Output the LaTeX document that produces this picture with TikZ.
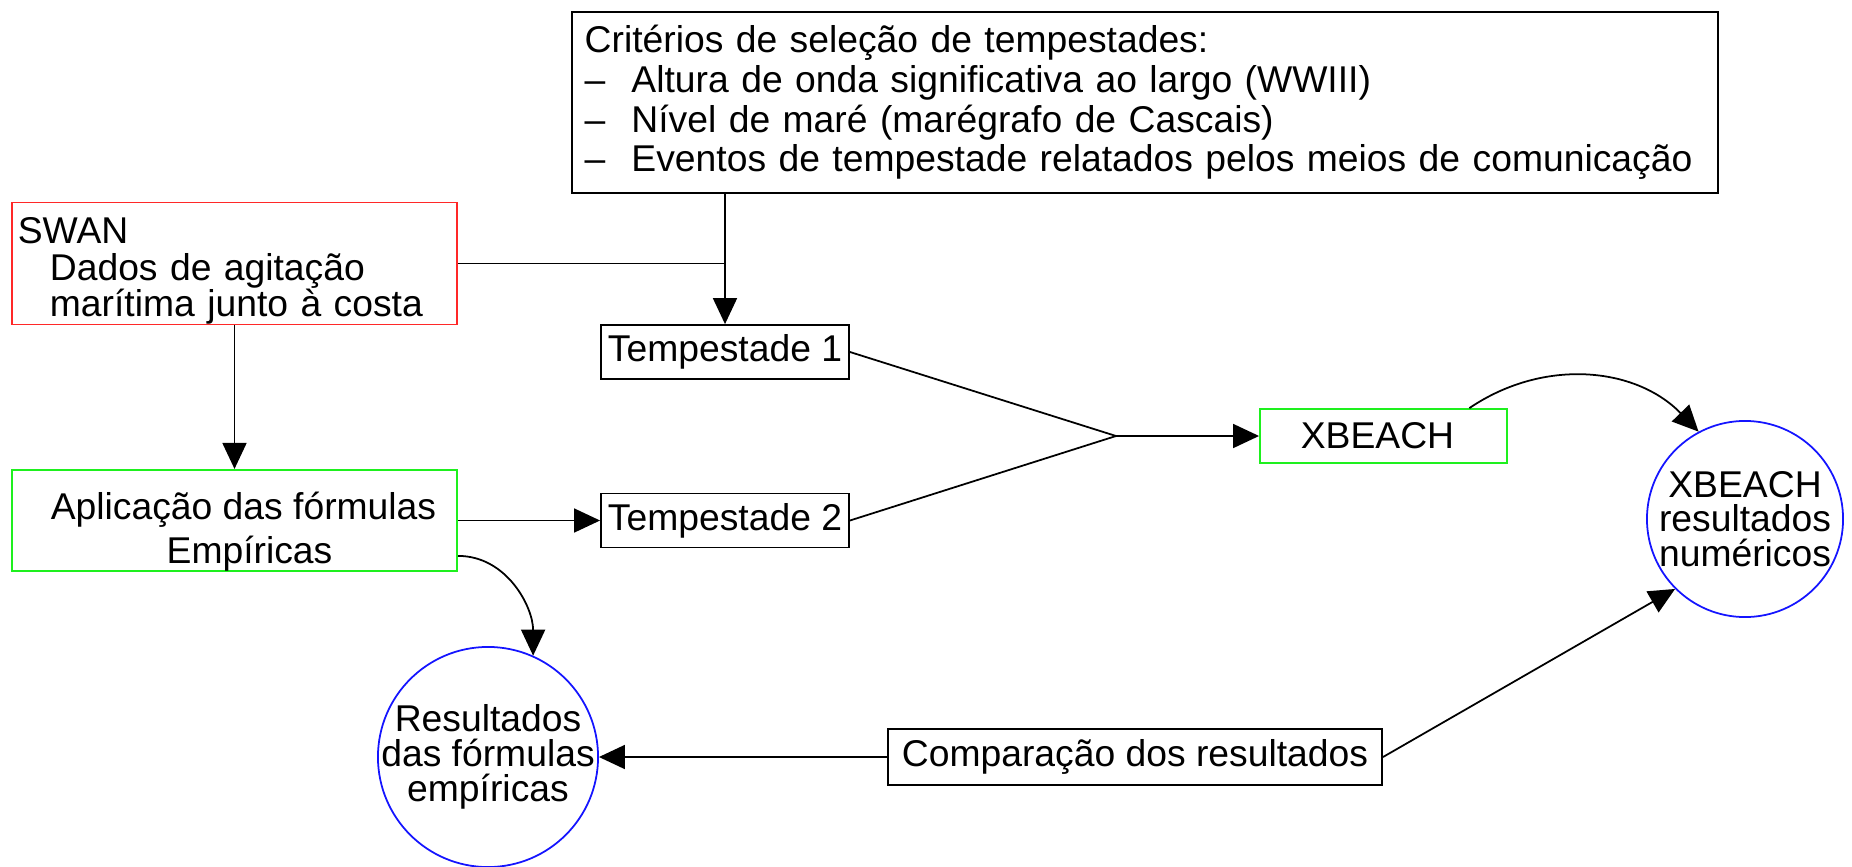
\documentclass[tikz,border=0pt]{standalone}
\usepackage{fontspec}
\setmainfont{Liberation Sans}
\usepackage{xcolor}
\usetikzlibrary{arrows.meta}

\definecolor{swanred}{RGB}{255,40,40}
\definecolor{boxgreen}{RGB}{30,240,30}
\definecolor{resblue}{RGB}{20,20,255}

\begin{document}
\begin{tikzpicture}[x=0.01cm,y=-0.01cm]
	\tikzstyle{box}=[draw, line width=0.5pt, inner sep=0pt, font=\fontsize{10.6}{11.3}\selectfont]
	\tikzstyle{result}=[circle, draw=resblue, line width=0.5pt, inner sep=-1cm, align=center, font=\fontsize{10.6}{9.9}\selectfont]
	\tikzstyle{line}=[line width=0.5pt]
	\tikzset{edge/.style = {line width=0.5pt, -{Triangle[length=0.26cm,width=0.24cm]}}}

	\useasboundingbox (0,0) rectangle (1852,867);

	\node[box, minimum width=11.46cm, minimum height=1.81cm, text width=11.2cm, align=left](crit) at (1145,102.5) {Critérios de seleção de tempestades:\\--\hspace{0.7em}Altura de onda significativa ao largo (WWIII)\\--\hspace{0.7em}Nível de maré (marégrafo de Cascais)\\--\hspace{0.7em}Eventos de tempestade relatados pelos meios de comunicação};
	\node[box, draw=swanred, minimum width=4.45cm, minimum height=1.21cm, text width=4.33cm, align=left, font=\fontsize{10.6}{10.4}\selectfont](swan) at (234.5,263.5) {\rule{0pt}{0.41cm}SWAN\\\hspace*{0.32cm}Dados de agitação\\\hspace*{0.32cm}marítima junto à costa};
	\node[box, draw=boxgreen, minimum width=4.45cm, minimum height=0.97cm, align=center, font=\fontsize{10.6}{12.4}\selectfont](apl) at (234.5,520.5) {\rule{0pt}{0.5cm}\hspace*{0.18cm}Aplicação das fórmulas\\\hspace*{0.3cm}Empíricas};
	\node[box, minimum width=2.48cm, minimum height=0.54cm](temp1) at (725,352) {Tempestade 1};
	\node[box, minimum width=2.48cm, minimum height=0.54cm](temp2) at (725,520.5) {Tempestade 2};
	\node[box, draw=boxgreen, minimum width=2.47cm, minimum height=0.54cm](xbeach) at (1383.5,436) {\hspace*{-0.12cm}XBEACH};
	\node[result, minimum size=1.96cm](xres) at (1745,519) {XBEACH\\resultados\\numéricos};
	\node[result, minimum size=2.2cm](fres) at (488,757) {Resultados\\das fórmulas\\empíricas};
	\node[box, minimum width=4.94cm, minimum height=0.56cm](comp) at (1135,757) {Comparação dos resultados};
	\coordinate (join) at (1116,436);

	\draw[edge](crit.south -| temp1.north) to (temp1.north);
	\draw[line](swan.east) to (swan.east -| temp1.north);
	\draw[edge](swan.south) to (apl.north);
	\draw[edge](apl.east) to (temp2.west);
	\draw[line](temp1.east) to (join);
	\draw[line](temp2.east) to (join);
	\draw[edge](join) to (xbeach.west);
	\draw[edge](xbeach.18) to[bend left=40] (xres.118);
	\draw[edge](apl.-9) to[out=0,in=90] (fres.66);
	\draw[edge](comp.west) to (fres.east);
	\draw[edge](comp.east) to (xres.225);
\end{tikzpicture}
\end{document}
